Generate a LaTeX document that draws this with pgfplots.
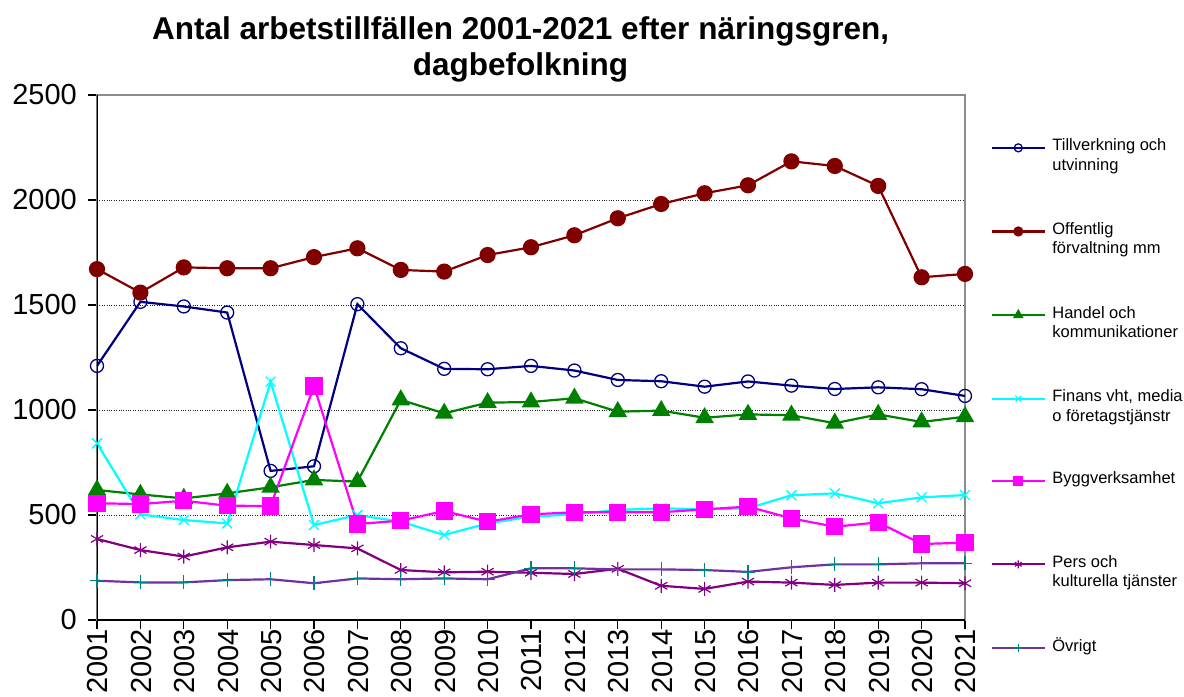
\documentclass[border=0pt]{standalone}
\usepackage{pgfplots}
\pgfplotsset{compat=1.18}
\usepackage{fontspec}
\setmainfont{Liberation Sans}
\definecolor{cNavy}{RGB}{0,0,128}
\definecolor{cDred}{RGB}{128,0,0}
\definecolor{cGreen}{RGB}{0,128,0}
\definecolor{cCyan}{RGB}{0,255,255}
\definecolor{cMag}{RGB}{255,0,255}
\definecolor{cPurp}{RGB}{128,0,128}
\definecolor{cViol}{RGB}{112,48,160}
\definecolor{cTeal}{RGB}{0,128,128}
\begin{document}
\begin{tikzpicture}
\path[use as bounding box] (-97bp,-77bp) rectangle (1087bp,620bp);
\begin{axis}[
  at={(0,0)}, anchor=south west,
  scale only axis, width=868bp, height=525bp,
  xmin=2001, xmax=2021, ymin=0, ymax=2500,
  xtick={2001,...,2021}, ytick={0,500,...,2500},
  /pgf/number format/1000 sep={},
  /pgf/number format/assume math mode=true,
  ticklabel style={font=\fontsize{29bp}{33bp}\selectfont},
  xticklabel style={rotate=90, anchor=east, inner sep=0pt, yshift=-1bp},
  yticklabel style={inner sep=0pt, xshift=-11bp},
  tick align=outside, tick pos=left, major tick length=9bp,
  tick style={black, line width=1.2bp},
  ymajorgrids, major grid style={black!85, dotted, line width=0.9bp},
  axis line style={draw=gray!90, line width=2.5bp},
  title={Antal arbetstillfällen 2001-2021 efter näringsgren,\\dagbefolkning},
  title style={font=\bfseries\fontsize{31.5bp}{36bp}\selectfont, align=center, at={(0.488,1)}, anchor=south, inner sep=0pt, yshift=7bp},
  legend style={at={(1,1)}, anchor=north west, xshift=26bp, yshift=-40bp, draw=none, fill=none,
    font=\fontsize{16.5bp}{19.5bp}\selectfont, row sep=64.5bp, column sep=4bp, inner sep=0pt,
    cells={anchor=base west}},
  legend image code/.code={\draw[#1, mark size=4bp, mark repeat=2, mark phase=2] plot coordinates {(0bp,0.3em) (26bp,0.3em) (53bp,0.3em)};},
  every axis plot/.append style={line width=2.2bp},
]
\addplot[cNavy, mark=o, mark size=6.5bp, mark options={line width=1.3bp}] coordinates {
(2001,1210) (2002,1515) (2003,1493) (2004,1464) (2005,710) (2006,732) (2007,1504)
(2008,1294) (2009,1196) (2010,1194) (2011,1210) (2012,1188) (2013,1143) (2014,1137)
(2015,1111) (2016,1136) (2017,1116) (2018,1100) (2019,1108) (2020,1099) (2021,1067)};
\addlegendentry{\begin{tabular}[t]{@{}l@{}}Tillverkning och\\utvinning\end{tabular}}
\addplot[cDred, mark=*, mark size=7bp] coordinates {
(2001,1671) (2002,1559) (2003,1679) (2004,1675) (2005,1675) (2006,1728) (2007,1770)
(2008,1667) (2009,1659) (2010,1738) (2011,1775) (2012,1832) (2013,1913) (2014,1981)
(2015,2032) (2016,2070) (2017,2184) (2018,2162) (2019,2067) (2020,1632) (2021,1648)};
\addlegendentry{\begin{tabular}[t]{@{}l@{}}Offentlig\\förvaltning mm\end{tabular}}
\addplot[cGreen, mark=triangle*, mark size=8.5bp] coordinates {
(2001,619) (2002,598) (2003,579) (2004,603) (2005,632) (2006,667) (2007,659)
(2008,1048) (2009,984) (2010,1035) (2011,1038) (2012,1056) (2013,992) (2014,997)
(2015,963) (2016,979) (2017,975) (2018,937) (2019,979) (2020,943) (2021,968)};
\addlegendentry{\begin{tabular}[t]{@{}l@{}}Handel och\\kommunikationer\end{tabular}}
\addplot[cCyan, mark=x, mark size=7bp, mark options={line width=1.3bp}] coordinates {
(2001,841) (2002,503) (2003,476) (2004,460) (2005,1135) (2006,452) (2007,500)
(2008,468) (2009,405) (2010,460) (2011,492) (2012,503) (2013,524) (2014,532)
(2015,527) (2016,532) (2017,594) (2018,603) (2019,556) (2020,584) (2021,595)};
\addlegendentry{\begin{tabular}[t]{@{}l@{}}Finans vht, media\\o företagstjänstr\end{tabular}}
\addplot[cMag, mark=square*, mark size=7.5bp] coordinates {
(2001,556) (2002,552) (2003,568) (2004,544) (2005,543) (2006,1114) (2007,457)
(2008,473) (2009,519) (2010,468) (2011,503) (2012,513) (2013,513) (2014,513)
(2015,527) (2016,540) (2017,484) (2018,444) (2019,465) (2020,362) (2021,368)};
\addlegendentry{Byggverksamhet}
\addplot[cPurp, mark=asterisk, mark size=7bp, mark options={line width=1.2bp}] coordinates {
(2001,386) (2002,333) (2003,302) (2004,346) (2005,373) (2006,357) (2007,341)
(2008,238) (2009,227) (2010,230) (2011,225) (2012,219) (2013,244) (2014,163)
(2015,148) (2016,183) (2017,178) (2018,167) (2019,178) (2020,178) (2021,175)};
\addlegendentry{\begin{tabular}[t]{@{}l@{}}Pers och\\kulturella tjänster\end{tabular}}
\addplot[cViol, mark=+, mark size=7bp, mark options={cTeal, line width=1.2bp}] coordinates {
(2001,187) (2002,179) (2003,179) (2004,190) (2005,194) (2006,175) (2007,198)
(2008,194) (2009,198) (2010,194) (2011,246) (2012,246) (2013,241) (2014,241)
(2015,238) (2016,229) (2017,251) (2018,265) (2019,265) (2020,270) (2021,270)};
\addlegendentry{Övrigt}
\draw[black, line width=1.8bp] (rel axis cs:0,1) -- (rel axis cs:0,0) -- (rel axis cs:1,0);
\end{axis}
\end{tikzpicture}
\end{document}
